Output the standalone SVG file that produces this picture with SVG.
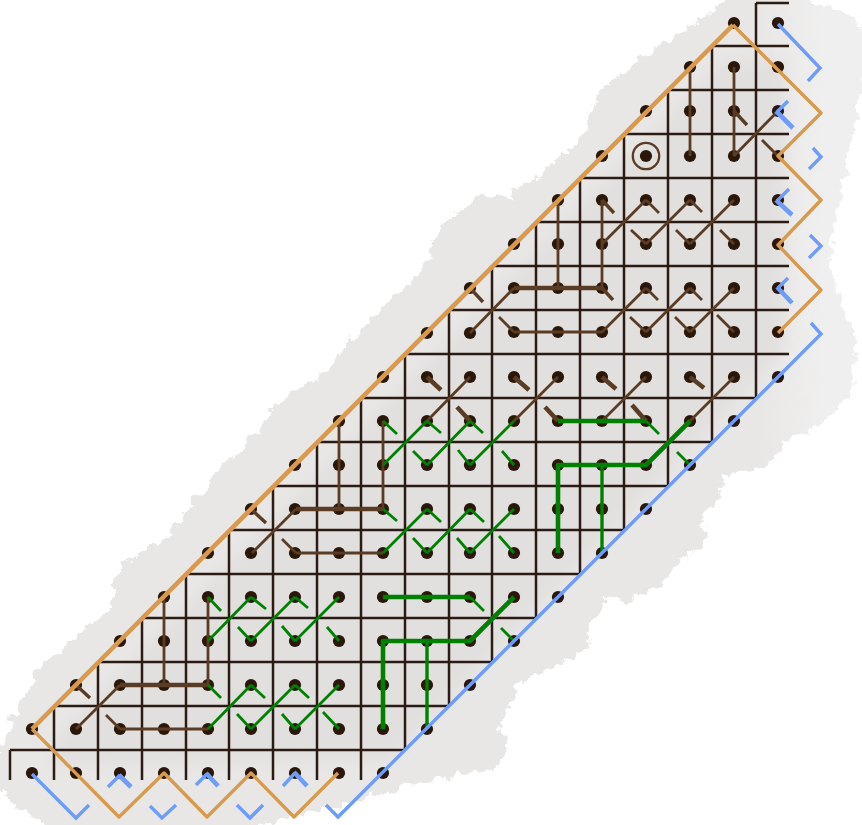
<svg xmlns="http://www.w3.org/2000/svg" width="862" height="825" viewBox="0 0 862 825">
<style>
.g{stroke:#2b1b12;stroke-width:2.5;fill:none}
.d{fill:#2a1709}
.br{stroke:#5a3c24;fill:none;stroke-linecap:butt;stroke-linejoin:round}
.gn{stroke:#008000;fill:none;stroke-linejoin:round}
.or{stroke:#d79a4e;fill:none;stroke-linejoin:round}
.bl{stroke:#6e9cf8;fill:none;stroke-linejoin:miter}
.w2{stroke-width:2.8}.w3{stroke-width:3.4}.w4{stroke-width:4.6}
</style>
<defs>
<filter id="rough" x="-5%" y="-5%" width="110%" height="110%" color-interpolation-filters="sRGB">
<feTurbulence type="fractalNoise" baseFrequency="0.09" numOctaves="5" seed="7"/>
<feDisplacementMap in="SourceGraphic" scale="16" xChannelSelector="R" yChannelSelector="G"/>
<feGaussianBlur stdDeviation="0.7"/>
</filter>
<filter id="soft" x="-5%" y="-5%" width="110%" height="110%">
<feGaussianBlur stdDeviation="7"/>
</filter>
<linearGradient id="wash-fill" gradientUnits="userSpaceOnUse" x1="760" y1="0" x2="825" y2="0">
<stop offset="0" stop-color="#e8e7e6"/><stop offset="1" stop-color="#f0efef"/>
</linearGradient>
</defs>
<g id="wash">
<path filter="url(#rough)" fill="url(#wash-fill)" d="M-8 767L3 740L20 700L40 667L80 633L107 613L113 600L113 578L120 568L170 533L220 467L250 443L273 407L297 390L327 370L360 333L380 313L413 277L430 257L433 240L457 210L483 192L513 200L510 190L533 180L560 157L580 143L593 107L600 90L623 73L630 65L680 33L713 10L740 -8L787 -8L833 8L872 30L860 100L833 233L830 267L840 300L857 340L850 393L817 430L783 440L767 467L723 473L720 497L700 517L707 530L703 547L683 557L663 583L627 603L605 593L603 612L587 630L590 643L563 665L547 667L517 685L513 700L500 730L508 753L490 770L453 775L420 783L387 790L353 803L313 810L280 820L240 832L60 832L27 813L7 800L-8 780Z"/>
<path filter="url(#soft)" fill="#e2e0df" d="M60 735L725 60L785 60L785 350L390 760L50 765Z"/>
</g>
<g id="grid">
<path class="g" d="M10 750H404M54 706H448M98 662H491M142 618H535M186 574H579M229 530H623M273 486H667M317 442H711M361 398H756M405 354H789M449 310H789M493 266H789M537 222H789M580 178H789M624 134H789M668 90H789M712 46H789M756 3H789"/>
<path class="g" d="M10 750V780M54 706V780M98 662V780M142 618V780M186 574V780M229 530V780M273 486V780M317 442V780M361 398V780M405 354V750M449 310V706M492 266V662M536 222V618M580 178V574M624 134V530M668 90V486M712 46V442M756 3V398"/>
</g>
<g id="nodes" class="d">
<g id="d0-0"><circle cx="32" cy="773" r="6.1"/></g><g id="d0-1"><circle cx="32" cy="729" r="6.1"/></g>
<g id="d1-0"><circle cx="76" cy="773" r="6.1"/></g><g id="d1-1"><circle cx="76" cy="729" r="6.1"/></g><g id="d1-2"><circle cx="76" cy="685" r="6.1"/></g>
<g id="d2-0"><circle cx="120" cy="773" r="6.1"/></g><g id="d2-1"><circle cx="120" cy="729" r="6.1"/></g><g id="d2-2"><circle cx="120" cy="685" r="6.1"/></g><g id="d2-3"><circle cx="120" cy="641" r="6.1"/></g>
<g id="d3-0"><circle cx="164" cy="773" r="6.1"/></g><g id="d3-1"><circle cx="164" cy="729" r="6.1"/></g><g id="d3-2"><circle cx="164" cy="685" r="6.1"/></g><g id="d3-3"><circle cx="164" cy="641" r="6.1"/></g><g id="d3-4"><circle cx="164" cy="597" r="6.1"/></g>
<g id="d4-0"><circle cx="208" cy="773" r="6.1"/></g><g id="d4-1"><circle cx="208" cy="729" r="6.1"/></g><g id="d4-2"><circle cx="208" cy="685" r="6.1"/></g><g id="d4-3"><circle cx="208" cy="641" r="6.1"/></g><g id="d4-4"><circle cx="208" cy="597" r="6.1"/></g><g id="d4-5"><circle cx="208" cy="553" r="6.1"/></g>
<g id="d5-0"><circle cx="251" cy="773" r="6.1"/></g><g id="d5-1"><circle cx="251" cy="729" r="6.1"/></g><g id="d5-2"><circle cx="251" cy="685" r="6.1"/></g><g id="d5-3"><circle cx="251" cy="641" r="6.1"/></g><g id="d5-4"><circle cx="251" cy="597" r="6.1"/></g><g id="d5-5"><circle cx="251" cy="553" r="6.1"/></g><g id="d5-6"><circle cx="251" cy="509" r="6.1"/></g>
<g id="d6-0"><circle cx="295" cy="773" r="6.1"/></g><g id="d6-1"><circle cx="295" cy="729" r="6.1"/></g><g id="d6-2"><circle cx="295" cy="685" r="6.1"/></g><g id="d6-3"><circle cx="295" cy="641" r="6.1"/></g><g id="d6-4"><circle cx="295" cy="597" r="6.1"/></g><g id="d6-5"><circle cx="295" cy="553" r="6.1"/></g><g id="d6-6"><circle cx="295" cy="509" r="6.1"/></g><g id="d6-7"><circle cx="295" cy="465" r="6.1"/></g>
<g id="d7-0"><circle cx="339" cy="773" r="6.1"/></g><g id="d7-1"><circle cx="339" cy="729" r="6.1"/></g><g id="d7-2"><circle cx="339" cy="685" r="6.1"/></g><g id="d7-3"><circle cx="339" cy="641" r="6.1"/></g><g id="d7-4"><circle cx="339" cy="597" r="6.1"/></g><g id="d7-5"><circle cx="339" cy="553" r="6.1"/></g><g id="d7-6"><circle cx="339" cy="509" r="6.1"/></g><g id="d7-7"><circle cx="339" cy="465" r="6.1"/></g><g id="d7-8"><circle cx="339" cy="421" r="6.1"/></g>
<g id="d8-0"><circle cx="383" cy="773" r="6.1"/></g><g id="d8-1"><circle cx="383" cy="729" r="6.1"/></g><g id="d8-2"><circle cx="383" cy="685" r="6.1"/></g><g id="d8-3"><circle cx="383" cy="641" r="6.1"/></g><g id="d8-4"><circle cx="383" cy="597" r="6.1"/></g><g id="d8-5"><circle cx="383" cy="553" r="6.1"/></g><g id="d8-6"><circle cx="383" cy="509" r="6.1"/></g><g id="d8-7"><circle cx="383" cy="465" r="6.1"/></g><g id="d8-8"><circle cx="383" cy="421" r="6.1"/></g><g id="d8-9"><circle cx="383" cy="377" r="6.1"/></g>
<g id="d9-1"><circle cx="427" cy="729" r="6.1"/></g><g id="d9-2"><circle cx="427" cy="685" r="6.1"/></g><g id="d9-3"><circle cx="427" cy="641" r="6.1"/></g><g id="d9-4"><circle cx="427" cy="597" r="6.1"/></g><g id="d9-5"><circle cx="427" cy="553" r="6.1"/></g><g id="d9-6"><circle cx="427" cy="509" r="6.1"/></g><g id="d9-7"><circle cx="427" cy="465" r="6.1"/></g><g id="d9-8"><circle cx="427" cy="421" r="6.1"/></g><g id="d9-9"><circle cx="427" cy="377" r="6.1"/></g><g id="d9-10"><circle cx="427" cy="333" r="6.1"/></g>
<g id="d10-2"><circle cx="470" cy="685" r="6.1"/></g><g id="d10-3"><circle cx="470" cy="641" r="6.1"/></g><g id="d10-4"><circle cx="470" cy="597" r="6.1"/></g><g id="d10-5"><circle cx="470" cy="553" r="6.1"/></g><g id="d10-6"><circle cx="470" cy="509" r="6.1"/></g><g id="d10-7"><circle cx="470" cy="465" r="6.1"/></g><g id="d10-8"><circle cx="470" cy="421" r="6.1"/></g><g id="d10-9"><circle cx="470" cy="377" r="6.1"/></g><g id="d10-10"><circle cx="470" cy="333" r="6.1"/></g><g id="d10-11"><circle cx="470" cy="288" r="6.1"/></g>
<g id="d11-3"><circle cx="514" cy="641" r="6.1"/></g><g id="d11-4"><circle cx="514" cy="597" r="6.1"/></g><g id="d11-5"><circle cx="514" cy="553" r="6.1"/></g><g id="d11-6"><circle cx="514" cy="509" r="6.1"/></g><g id="d11-7"><circle cx="514" cy="465" r="6.1"/></g><g id="d11-8"><circle cx="514" cy="421" r="6.1"/></g><g id="d11-9"><circle cx="514" cy="377" r="6.1"/></g><g id="d11-10"><circle cx="514" cy="332" r="6.1"/></g><g id="d11-11"><circle cx="514" cy="288" r="6.1"/></g><g id="d11-12"><circle cx="514" cy="244" r="6.1"/></g>
<g id="d12-4"><circle cx="558" cy="597" r="6.1"/></g><g id="d12-5"><circle cx="558" cy="553" r="6.1"/></g><g id="d12-6"><circle cx="558" cy="509" r="6.1"/></g><g id="d12-7"><circle cx="558" cy="465" r="6.1"/></g><g id="d12-8"><circle cx="558" cy="421" r="6.1"/></g><g id="d12-9"><circle cx="558" cy="377" r="6.1"/></g><g id="d12-10"><circle cx="558" cy="332" r="6.1"/></g><g id="d12-11"><circle cx="558" cy="288" r="6.1"/></g><g id="d12-12"><circle cx="558" cy="244" r="6.1"/></g><g id="d12-13"><circle cx="558" cy="200" r="6.1"/></g>
<g id="d13-5"><circle cx="602" cy="553" r="6.1"/></g><g id="d13-6"><circle cx="602" cy="509" r="6.1"/></g><g id="d13-7"><circle cx="602" cy="465" r="6.1"/></g><g id="d13-8"><circle cx="602" cy="421" r="6.1"/></g><g id="d13-9"><circle cx="602" cy="377" r="6.1"/></g><g id="d13-10"><circle cx="602" cy="332" r="6.1"/></g><g id="d13-11"><circle cx="602" cy="288" r="6.1"/></g><g id="d13-12"><circle cx="602" cy="244" r="6.1"/></g><g id="d13-13"><circle cx="602" cy="200" r="6.1"/></g><g id="d13-14"><circle cx="602" cy="156" r="6.1"/></g>
<g id="d14-6"><circle cx="646" cy="509" r="6.1"/></g><g id="d14-7"><circle cx="646" cy="465" r="6.1"/></g><g id="d14-8"><circle cx="646" cy="421" r="6.1"/></g><g id="d14-9"><circle cx="646" cy="377" r="6.1"/></g><g id="d14-10"><circle cx="646" cy="332" r="6.1"/></g><g id="d14-11"><circle cx="646" cy="288" r="6.1"/></g><g id="d14-12"><circle cx="646" cy="244" r="6.1"/></g><g id="d14-13"><circle cx="646" cy="200" r="6.1"/></g><g id="d14-14"><circle cx="646" cy="156" r="6.1"/><circle cx="646" cy="156" r="13.2" fill="none" stroke="#5a3c24" stroke-width="2.3"/></g><g id="d14-15"><circle cx="646" cy="111" r="6.1"/></g>
<g id="d15-7"><circle cx="690" cy="465" r="6.1"/></g><g id="d15-8"><circle cx="690" cy="421" r="6.1"/></g><g id="d15-9"><circle cx="690" cy="377" r="6.1"/></g><g id="d15-10"><circle cx="690" cy="332" r="6.1"/></g><g id="d15-11"><circle cx="690" cy="288" r="6.1"/></g><g id="d15-12"><circle cx="690" cy="244" r="6.1"/></g><g id="d15-13"><circle cx="690" cy="200" r="6.1"/></g><g id="d15-14"><circle cx="690" cy="156" r="6.1"/></g><g id="d15-15"><circle cx="690" cy="111" r="6.1"/></g><g id="d15-16"><circle cx="690" cy="67" r="6.1"/></g>
<g id="d16-8"><circle cx="734" cy="421" r="6.1"/></g><g id="d16-9"><circle cx="734" cy="377" r="6.1"/></g><g id="d16-10"><circle cx="734" cy="332" r="6.1"/></g><g id="d16-11"><circle cx="734" cy="288" r="6.1"/></g><g id="d16-12"><circle cx="734" cy="244" r="6.1"/></g><g id="d16-13"><circle cx="734" cy="200" r="6.1"/></g><g id="d16-14"><circle cx="734" cy="156" r="6.1"/></g><g id="d16-15"><circle cx="734" cy="111" r="6.1"/></g><g id="d16-16"><circle cx="734" cy="67" r="6.1"/></g><g id="d16-17"><circle cx="734" cy="23" r="6.1"/></g>
<g id="d17-9"><circle cx="778" cy="377" r="6.1"/></g><g id="d17-10"><circle cx="778" cy="332" r="6.1"/></g><g id="d17-11"><circle cx="778" cy="288" r="6.1"/></g><g id="d17-12"><circle cx="778" cy="244" r="6.1"/></g><g id="d17-13"><circle cx="778" cy="200" r="6.1"/></g><g id="d17-14"><circle cx="778" cy="156" r="6.1"/></g><g id="d17-15"><circle cx="778" cy="111" r="6.1"/></g><g id="d17-16"><circle cx="778" cy="67" r="6.1"/></g><g id="d17-17"><circle cx="778" cy="23" r="6.1"/></g>
</g>
<g id="connectors">
<g id="brown-thin" class="br w2">
<path d="M690 67V156M734 67V156M778 111L734 156M778 156L762 140"/>
<path d="M558 200V288M602 200V288M602 244L646 200M646 244L690 200M690 244L734 200M646 244L631 230M690 244L676 230M734 244L720 230"/>
<path d="M470 333L514 288M514 332H602L646 288M514 332L499 317M646 332L690 288M690 332L734 288M646 332L630 317M690 332L675 317M734 332L717 315"/>
<path d="M646 200L659 213M690 200L702 212M646 288L658 300M690 288L702 300"/>
<path d="M470 377L427 421M558 377L514 421M646 377L602 421M734 377L690 421"/>
<path d="M339 421V509M383 421V509M296 509L252 553M296 553H383M296 553L282 539"/>
<path d="M164 597V685M208 597V685M120 685L76 729M120 729H208M120 729L106 715"/>
</g>
<g id="brown-thick" class="br w4">
<path d="M514 288H602"/><path d="M296 509H383"/><path d="M120 685H208"/>
<path class="w3" d="M734 111L747 125M602 200L614 213M602 288L613 300M470 288L483 302"/>
<path d="M427 377L441 390M514 377L529 390M602 377L616 389M690 377L704 388M457 407L470 421M545 407L558 421M632 405L646 421" class="w4"/>
<path class="w3" d="M251 509L266 523M76 685L90 698"/>
</g>
<g id="green" class="gn w2">
<path d="M383 421L397 434M427 421L441 433M470 421L483 433M383 465L427 421M427 465L470 421M470 465L514 421M413 451L427 465M458 450L470 465M502 451L514 465"/>
<path d="M646 421L659 434M677 452L690 465"/>
<path d="M383 509L397 521M427 509L441 522M470 509L484 522M383 553L427 509M427 553L470 509M470 553L514 509M413 538L427 553M457 538L470 553M499 536L514 553"/>
<path d="M208 597L221 611M251 597L266 609M295 597L308 608M208 641L251 597M251 641L295 597M295 641L339 597M238 627L251 641M282 626L295 641M327 627L339 641"/>
<path d="M208 685L221 698M251 685L265 698M295 685L309 698M208 729L251 685M251 729L295 685M295 729L339 685M237 714L251 729M282 714L295 729M323 712L339 729"/>
<path d="M470 597L484 611M501 628L514 641"/>
<path class="w3" d="M602 465V553M427 641V729"/>
<path class="w4" d="M558 421H646M558 553V465H646L690 421M383 597H470M383 729V641H470L514 597"/>
</g>
<g id="orange" class="or w3">
<path class="w4" d="M32 729L733 25"/>
<path d="M733 25L821 113L778 156L821 200L778 245L821 290L778 333M32 729L119 817L164 773L207 817L251 773L294 817L338 773"/>
</g>
<g id="blue" class="bl w3">
<path d="M32 774L76 818L89 805M108 787L120 775M150 806L162 818L176 805M196 785L207 774M237 805L250 818L263 805M283 786L295 773M326 805L338 817L821 334L811 323"/>
<path d="M778 24L820 68L808 81M788 101L777 112M813 148L821 157L809 169M789 189L777 201M810 235L821 246L809 258M788 278L778 288"/>
<path class="w4" d="M119 775L131 787M206 773L218 786M294 772L307 786M776 111L793 128M776 200L792 215M777 287L792 303"/>
</g>
</g>
</svg>
